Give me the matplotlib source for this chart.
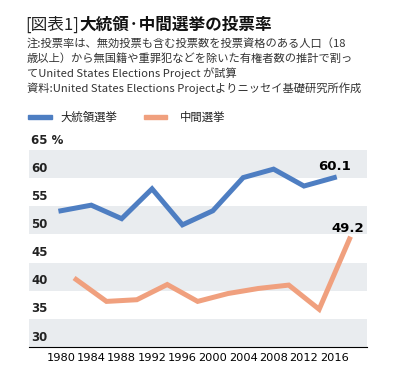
import matplotlib
matplotlib.use('Agg')
import matplotlib.pyplot as plt

plt.rcParams['font.family'] = ['Noto Sans CJK JP', 'DejaVu Sans']

pres_years = [1980, 1984, 1988, 1992, 1996, 2000, 2004, 2008, 2012, 2016]
pres_vals = [54.2, 55.2, 52.8, 58.1, 51.7, 54.2, 60.1, 61.6, 58.6, 60.1]
mid_years = [1982, 1986, 1990, 1994, 1998, 2002, 2006, 2010, 2014, 2018]
mid_vals = [42.0, 38.1, 38.4, 41.1, 38.1, 39.5, 40.4, 41.0, 36.7, 49.2]
xticks = [1980, 1984, 1988, 1992, 1996, 2000, 2004, 2008, 2012, 2016]
yticks = [30, 35, 40, 45, 50, 55, 60, 65]

blue = '#4E7EC2'
orange = '#F0A07E'
band = '#E9ECEF'

W, H = 397, 381
fig = plt.figure(figsize=(W/100, H/100), dpi=100)
ax = fig.add_axes([29/W, 1-347/H, (367-29)/W, (347-150)/H])

ax.set_xlim(1975.8, 2020.3)
ax.set_ylim(30, 65)
for lo in [30, 40, 50, 60]:
    ax.axhspan(lo, lo+5, color=band, lw=0, zorder=0)

ax.plot(pres_years, pres_vals, color=blue, lw=3.6, solid_joinstyle='miter', zorder=3)
ax.plot(mid_years, mid_vals, color=orange, lw=3.6, solid_joinstyle='miter', zorder=3)

ax.text(pres_years[-1], pres_vals[-1]+0.9, '%.1f' % pres_vals[-1], ha='center', va='bottom',
        fontsize=9.5, fontweight='bold', family='DejaVu Sans')
ax.text(mid_years[-1]-0.2, mid_vals[-1]+0.7, '%.1f' % mid_vals[-1], ha='center', va='bottom',
        fontsize=9.5, fontweight='bold', family='DejaVu Sans')

for sp in ['top', 'right', 'left']:
    ax.spines[sp].set_visible(False)
ax.spines['bottom'].set_color('black')
ax.spines['bottom'].set_linewidth(0.8)
ax.set_yticks([])
ax.set_xticks(xticks)
ax.set_xticklabels([str(y) for y in xticks], fontsize=8.2, family='DejaVu Sans')
ax.tick_params(axis='x', length=0, pad=4)

for v in yticks:
    lab = '65 %' if v == 65 else str(v)
    ax.text(1976.1, v+0.6, lab, ha='left', va='bottom', fontsize=8.5,
            fontweight='bold', family='DejaVu Sans', color='#222222')

# title: normal-weight prefix then bold part right after it
t1 = fig.text(25/W, 1-25/H, '[図表1]', fontsize=12, va='center', ha='left', color='#222222')
fig.canvas.draw()
bb = t1.get_window_extent(fig.canvas.get_renderer())
fig.text(bb.x1/W + 1/W, 1-25/H, '大統領·中間選挙の投票率', fontsize=12, fontweight='bold',
         va='center', ha='left', color='#111111')

notes = ['注:投票率は、無効投票も含む投票数を投票資格のある人口（18',
         '歳以上）から無国籍や重罪犯などを除いた有権者数の推計で割っ',
         'てUnited States Elections Project が試算',
         '資料:United States Elections Projectよりニッセイ基礎研究所作成']
for i, t in enumerate(notes):
    fig.text(27/W, 1-(43+15*i)/H, t, fontsize=8.1, va='center', ha='left', color='#333333')

fig.patches.append(plt.Rectangle((28/W, 1-119/H), 24/W, 4/H, transform=fig.transFigure, color=blue))
fig.text(60/W, 1-117/H, '大統領選挙', fontsize=8.2, va='center', ha='left', color='#222222')
fig.patches.append(plt.Rectangle((144/W, 1-119/H), 23/W, 4/H, transform=fig.transFigure, color=orange))
fig.text(180/W, 1-117/H, '中間選挙', fontsize=8.2, va='center', ha='left', color='#222222')

fig.savefig('out.png', dpi=100)
